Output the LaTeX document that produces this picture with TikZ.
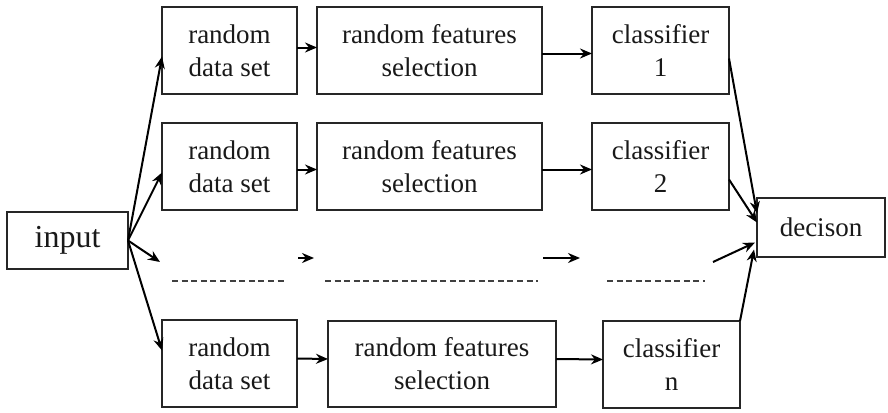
\documentclass[tikz,border=0pt]{standalone}
\usepackage{fontspec}
\setmainfont{Liberation Serif}
\newfontfamily\tnr{Liberation Serif}
\usetikzlibrary{arrows.meta,calc}
\begin{document}
\begin{tikzpicture}[x=0.5pt,y=-0.5pt,
  box/.style={draw=black!85, line width=1.2pt, inner sep=0pt, outer sep=0pt, align=center,
    font=\tnr\fontsize{13.5}{16.5}\selectfont, text=black!90},
  conn/.style={line width=1pt, draw=black, -{Stealth[length=6pt,width=5pt]}},
  dots/.style={line width=1.3pt, draw=black!75, dash pattern=on 3pt off 1.8pt}]
\useasboundingbox (0,0) rectangle (888,412);
\fill[white] (0,0) rectangle (888,412);
% nodes
\node[box, minimum width=60.5pt, minimum height=28.5pt, font=\tnr\fontsize{16}{18}\selectfont] (input) at (67.5,240.5) {input};
\node[box, minimum width=67.5pt, minimum height=43.5pt] (rds1) at (229.5,50.5) {random\\data set};
\node[box, minimum width=112.5pt, minimum height=43.5pt] (rfs1) at (429.5,50.5) {random features\\selection};
\node[box, minimum width=68.5pt, minimum height=43.5pt] (cls1) at (660.5,50.5) {classifier\\1};
\node[box, minimum width=67.5pt, minimum height=43.5pt] (rds2) at (229.5,166.5) {random\\data set};
\node[box, minimum width=112.5pt, minimum height=43.5pt] (rfs2) at (429.5,166.5) {random features\\selection};
\node[box, minimum width=68.5pt, minimum height=43.5pt] (cls2) at (660.5,166.5) {classifier\\2};
\node[box, minimum width=67.5pt, minimum height=43.5pt] (rdsn) at (229.5,363.5) {random\\data set};
\node[box, minimum width=114pt, minimum height=43pt] (rfsn) at (442,364) {random features\\selection};
\node[box, minimum width=68.5pt, minimum height=43.5pt] (clsn) at (671.5,364.5) {classifier\\n};
\node[box, minimum width=64pt, minimum height=29.5pt] (dec) at (821,227.5) {decison};
% input fan-out
\draw[conn] (input.east) -- ($(rds1.west)+(0,6)$);
\draw[conn] (input.east) -- ($(rds2.west)+(0,6)$);
\coordinate (m0) at (160,262);
\draw[conn] (input.east) -- (m0);
\draw[conn] (input.east) -- ($(rdsn.west)+(0,-13)$);
% row arrows
\draw[conn] ($(rds1.east)+(0,-3)$) -- ($(rfs1.west)+(0,-3)$);
\draw[conn] ($(rfs1.east)+(0,3)$) -- ($(cls1.west)+(0,3)$);
\draw[conn] ($(rds2.east)+(0,3)$) -- ($(rfs2.west)+(0,3)$);
\draw[conn] ($(rfs2.east)+(0,3)$) -- ($(cls2.west)+(0,3)$);
\draw[conn] ($(rdsn.east)+(0,-5)$) -- ($(rfsn.west)+(0,-5)$);
\draw[conn] ($(rfsn.east)+(0,-5)$) -- ($(clsn.west)+(0,-5)$);
% middle (omitted) row
\coordinate (ma1) at (298,258);
\coordinate (mb1) at (314,258);
\coordinate (ma2) at (543,258);
\coordinate (mb2) at (580,258);
\coordinate (ma3) at (713,262);
\draw[conn] (ma1) -- (mb1);
\draw[conn] (ma2) -- (mb2);
\coordinate (d1a) at (172,281); \coordinate (d1b) at (287,281);
\coordinate (d2a) at (325,281); \coordinate (d2b) at (538,281);
\coordinate (d3a) at (607,281); \coordinate (d3b) at (705,281);
\draw[dots] (d1a) -- (d1b);
\draw[dots] (d2a) -- (d2b);
\draw[dots] (d3a) -- (d3b);
% to decision
\draw[conn] ($(cls1.east)+(0,8)$) -- ($(dec.west)+(0,-14)$);
\draw[conn] ($(cls2.east)+(0,13)$) -- ($(dec.west)+(0,-5)$);
\draw[conn] (ma3) -- ($(dec.west)+(-2,15)$);
\draw[conn] (clsn.north east) -- ($(dec.west)+(-3,22)$);
\end{tikzpicture}
\end{document}
